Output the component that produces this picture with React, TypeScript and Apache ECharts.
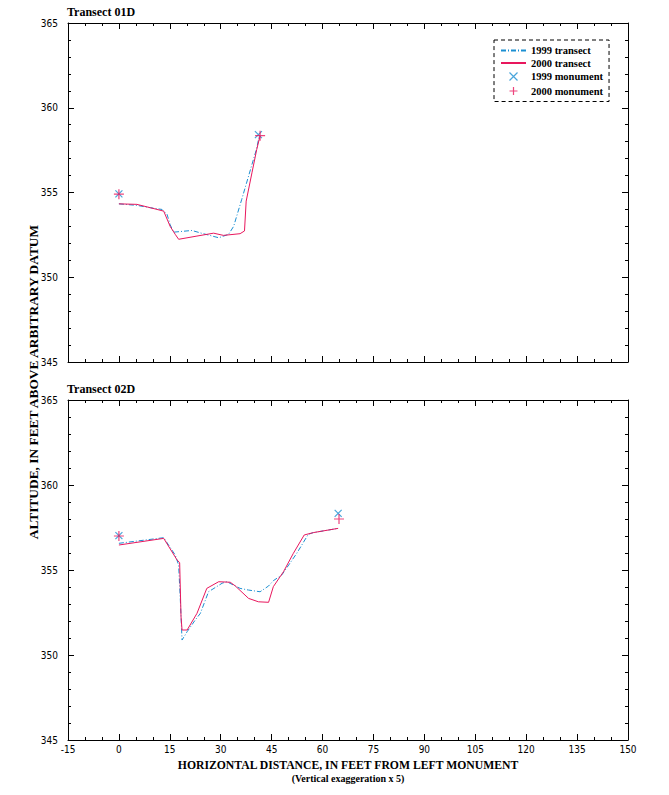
import React, { useEffect, useRef } from "react";
import * as echarts from "echarts";

// ---------- data ----------
const xTicks = [-15, 0, 15, 30, 45, 60, 75, 90, 105, 120, 135, 150];
const yTicks = [345, 350, 355, 360, 365];

// Transect 01D
const t01_1999X = [0, 5.3, 9.3, 12.7, 14.2, 15.1, 16.1, 21.5, 24.5, 29.4, 32.3, 33.8, 36.2, 39.2, 40.6, 41.4];
const t01_1999Y = [354.33, 354.24, 354.1, 354.0, 353.7, 353.1, 352.66, 352.76, 352.59, 352.33, 352.53, 353.0, 354.6, 356.65, 357.6, 358.4];
const t01_2000X = [0, 5.3, 9.3, 13.2, 15.1, 16.6, 17.6, 23.0, 27.9, 30.8, 35.7, 37.0, 37.5, 39.2, 40.6, 41.6];
const t01_2000Y = [354.33, 354.3, 354.1, 353.9, 353.0, 352.53, 352.24, 352.43, 352.6, 352.47, 352.57, 352.73, 354.49, 356.16, 357.53, 358.35];
const t01_mon1999X = [0, 41.1];
const t01_mon1999Y = [354.92, 358.41];
const t01_mon2000X = [0, 41.6];
const t01_mon2000Y = [354.9, 358.35];

// Transect 02D
const t02_1999X = [0, 13.2, 16.6, 17.6, 18.1, 18.6, 20.1, 22.5, 24.0, 26.4, 30.4, 31.8, 35.7, 38.2, 41.6, 44.1, 45.5, 48.0, 52.4, 55.8, 57.3, 64.6];
const t02_1999Y = [356.57, 356.9, 355.88, 355.29, 353.24, 350.88, 351.37, 352.06, 352.45, 353.72, 354.22, 354.31, 353.92, 353.82, 353.72, 354.06, 354.37, 354.71, 355.98, 357.1, 357.2, 357.45];
const t02_2000X = [0, 13.2, 17.1, 17.9, 18.3, 18.6, 20.1, 23.0, 25.9, 29.4, 32.8, 34.3, 38.2, 41.1, 44.1, 45.5, 48.5, 51.4, 54.6, 57.3, 64.6];
const t02_2000Y = [356.47, 356.86, 355.6, 355.43, 352.25, 351.47, 351.47, 352.45, 353.92, 354.31, 354.28, 354.06, 353.33, 353.13, 353.1, 354.02, 354.9, 355.98, 357.06, 357.2, 357.45];
const t02_mon1999X = [0, 64.6];
const t02_mon1999Y = [357.02, 358.33];
const t02_mon2000X = [0, 64.85];
const t02_mon2000Y = [357.0, 358.0];

const seriesNames = ["1999 transect", "2000 transect", "1999 monument", "2000 monument"];
const panelTitles = ["Transect 01D", "Transect 02D"];
const xTitle = "HORIZONTAL DISTANCE, IN FEET FROM LEFT MONUMENT";
const xSubTitle = "(Vertical exaggeration x 5)";
const yTitle = "ALTITUDE, IN FEET ABOVE ARBITRARY DATUM";

// ---------- styles ----------
const BLUE = "#1b8fd2";
const RED = "#e8175d";
const SERIF = "'Liberation Serif', 'DejaVu Serif', serif";
const NARROW = "'Liberation Sans Narrow', 'DejaVu Sans Condensed', 'Liberation Sans', sans-serif";
const CROSS = "path://M0,0L10,10M10,0L0,10";
const PLUS = "path://M5,0L5,10M0,5L10,5";

const zip = (xs: number[], ys: number[]) => xs.map((x, i) => [x, ys[i]]);

function xAxisDef(grid: number, position: "bottom" | "top", labels: boolean, extra: any = {}) {
  return {
    type: "value",
    gridIndex: grid,
    position,
    min: xTicks[0],
    max: xTicks[xTicks.length - 1],
    interval: 15,
    axisLine: { show: true, onZero: false, lineStyle: { color: "#000", width: 1 } },
    axisTick: { show: true, inside: true, length: 6, lineStyle: { color: "#000" } },
    minorTick: { show: true, splitNumber: 3, length: 3, lineStyle: { color: "#000" } },
    splitLine: { show: false },
    axisLabel: {
      show: labels,
      color: "#000",
      fontFamily: NARROW,
      fontSize: 10,
      margin: 4,
    },
    ...extra,
  };
}

function yAxisDef(grid: number, position: "left" | "right", labels: boolean) {
  return {
    type: "value",
    gridIndex: grid,
    position,
    min: yTicks[0],
    max: yTicks[yTicks.length - 1],
    interval: 5,
    axisLine: { show: true, onZero: false, lineStyle: { color: "#000", width: 1 } },
    axisTick: { show: true, inside: true, length: 6, lineStyle: { color: "#000" } },
    minorTick: { show: true, splitNumber: 5, length: 3, lineStyle: { color: "#000" } },
    splitLine: { show: false },
    axisLabel: {
      show: labels,
      color: "#000",
      fontFamily: NARROW,
      fontSize: 10,
      margin: 10,
    },
  };
}

function panelSeries(
  grid: number,
  l1999: number[][],
  l2000: number[][],
  m1999: number[][],
  m2000: number[][]
) {
  const xi = grid * 2;
  const yi = grid * 2;
  return [
    {
      name: seriesNames[0],
      type: "line",
      xAxisIndex: xi,
      yAxisIndex: yi,
      data: l1999,
      symbol: "none",
      lineStyle: { color: BLUE, width: 1, type: [5, 2, 1, 2] },
      itemStyle: { color: BLUE },
      z: 2,
    },
    {
      name: seriesNames[1],
      type: "line",
      xAxisIndex: xi,
      yAxisIndex: yi,
      data: l2000,
      symbol: "none",
      lineStyle: { color: RED, width: 1, type: "solid" },
      itemStyle: { color: RED },
      z: 3,
    },
    {
      name: seriesNames[2],
      type: "scatter",
      xAxisIndex: xi,
      yAxisIndex: yi,
      data: m1999,
      symbol: CROSS,
      symbolSize: 7,
      symbolKeepAspect: true,
      itemStyle: { color: "none", borderColor: BLUE, borderWidth: 1.2 },
      z: 4,
    },
    {
      name: seriesNames[3],
      type: "scatter",
      xAxisIndex: xi,
      yAxisIndex: yi,
      data: m2000,
      symbol: PLUS,
      symbolSize: 10,
      symbolKeepAspect: true,
      itemStyle: { color: "none", borderColor: RED, borderWidth: 1.2 },
      z: 5,
    },
  ];
}

export default function App() {
  const ref = useRef<HTMLDivElement>(null);

  useEffect(() => {
    if (!ref.current) return;
    const chart = echarts.init(ref.current, null, { renderer: "svg" });

    const titleStyle = { fontFamily: SERIF, fontSize: 12, fontWeight: "bold", color: "#000" };

    const option: any = {
      animation: false,
      backgroundColor: "#fff",
      title: [
        { text: panelTitles[0], left: 67, top: 6, padding: 0, textStyle: titleStyle },
        { text: panelTitles[1], left: 67, top: 383, padding: 0, textStyle: titleStyle },
      ],
      legend: {
        orient: "vertical",
        left: 494,
        top: 40,
        padding: [5, 6, 4, 6],
        itemGap: 1.5,
        itemWidth: 25,
        itemHeight: 8,
        borderColor: "#000",
        borderWidth: 1,
        borderType: [4, 3],
        backgroundColor: "#fff",
        textStyle: {
          fontFamily: SERIF,
          fontSize: 10.5,
          fontWeight: "bold",
          color: "#000",
          lineHeight: 11,
        },
        data: [
          { name: seriesNames[0], itemStyle: { color: "transparent", borderWidth: 0, opacity: 0 } },
          { name: seriesNames[1], itemStyle: { color: "transparent", borderWidth: 0, opacity: 0 } },
          {
            name: seriesNames[2],
            itemStyle: { color: "none", borderColor: BLUE, borderWidth: 1.2 },
          },
          {
            name: seriesNames[3],
            itemStyle: { color: "none", borderColor: RED, borderWidth: 1.2 },
          },
        ],
      },
      grid: [
        { left: 68, top: 23, width: 560, height: 339 },
        { left: 68, top: 400, width: 560, height: 340 },
      ],
      xAxis: [
        xAxisDef(0, "bottom", false),
        xAxisDef(0, "top", false),
        xAxisDef(1, "bottom", true, {
          name: `{a|${xTitle}}\n{b|${xSubTitle}}`,
          nameLocation: "middle",
          nameGap: 19,
          nameTextStyle: {
            rich: {
              a: { fontFamily: SERIF, fontSize: 11.7, fontWeight: "bold", color: "#000", lineHeight: 13 },
              b: { fontFamily: SERIF, fontSize: 10, fontWeight: "bold", color: "#000", lineHeight: 13 },
            },
          },
        }),
        xAxisDef(1, "top", false),
      ],
      yAxis: [
        yAxisDef(0, "left", true),
        yAxisDef(0, "right", false),
        yAxisDef(1, "left", true),
        yAxisDef(1, "right", false),
      ],
      graphic: [
        {
          type: "text",
          x: 33,
          y: 382,
          rotation: Math.PI / 2,
          style: {
            text: yTitle,
            fontFamily: SERIF,
            fontSize: 13.4,
            fontWeight: "bold",
            fill: "#000",
            textAlign: "center",
            textVerticalAlign: "middle",
          },
        },
      ],
      series: [
        ...panelSeries(0, zip(t01_1999X, t01_1999Y), zip(t01_2000X, t01_2000Y), zip(t01_mon1999X, t01_mon1999Y), zip(t01_mon2000X, t01_mon2000Y)),
        ...panelSeries(1, zip(t02_1999X, t02_1999Y), zip(t02_2000X, t02_2000Y), zip(t02_mon1999X, t02_mon1999Y), zip(t02_mon2000X, t02_mon2000Y)),
      ],
    };

    chart.setOption(option);
    return () => chart.dispose();
  }, []);

  return (
    <div
      ref={ref}
      style={{ position: "absolute", left: 0, top: 0, width: 669, height: 795, background: "#fff" }}
    />
  );
}
